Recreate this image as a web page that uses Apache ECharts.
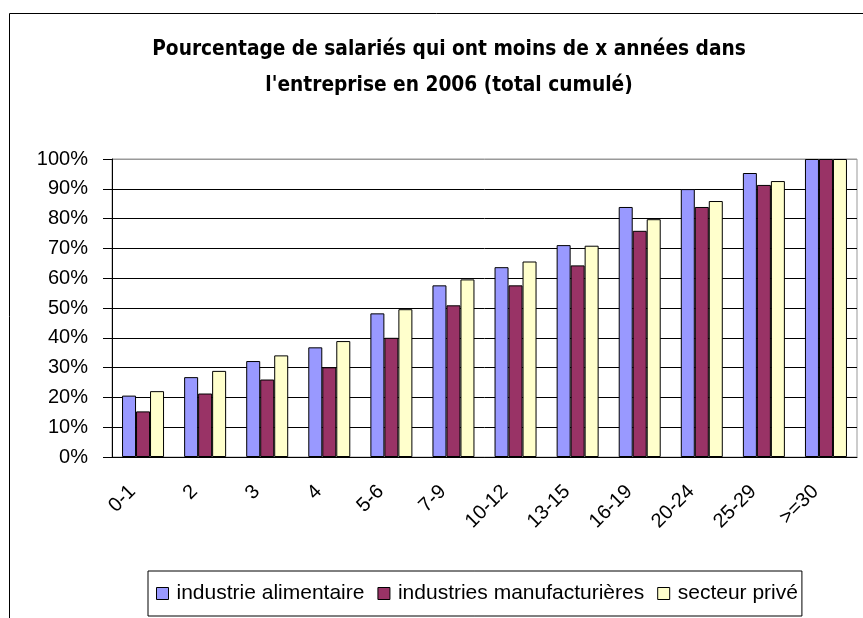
<!DOCTYPE html>
<html>
<head>
<meta charset="utf-8">
<script src="https://cdn.jsdelivr.net/npm/echarts@6/dist/echarts.min.js"></script>
<style>
html, body { margin: 0; padding: 0; background: #fff; }
#main { width: 863px; height: 618px; }
</style>
</head>
<body>
<div id="main"></div>
<script>
const categories = ['0-1', '2', '3', '4', '5-6', '7-9', '10-12', '13-15', '16-19', '20-24', '25-29', '>=30'];
const industrieAlimentaire = [20.6, 26.8, 32.2, 36.8, 48.2, 57.6, 63.7, 71.1, 83.9, 89.9, 95.3, 100];
const industriesManufacturieres = [15.3, 21.3, 26.0, 30.1, 40.0, 50.9, 57.6, 64.3, 75.9, 83.9, 91.3, 100];
const secteurPrive = [22.1, 28.9, 34.1, 38.9, 49.6, 59.6, 65.6, 70.9, 79.8, 85.9, 92.6, 100];
const seriesNames = ['industrie alimentaire', 'industries manufacturières', 'secteur privé'];

const chart = echarts.init(document.getElementById('main'));
const narrow = "'DejaVu Sans Condensed', 'Liberation Sans Narrow', sans-serif";
const arial = "'Liberation Sans', Arial, sans-serif";

// split line colours: black everywhere except the top one (plot border is grey)
const splitColors = ['#000', '#000', '#000', '#000', '#000', '#000', '#000', '#000', '#000', '#000', '#999'];

function barSeries(name, data, color) {
  return {
    name: name,
    type: 'bar',
    data: data,
    barWidth: 14,
    barGap: '0%',
    itemStyle: { color: color, borderColor: '#000', borderWidth: 1 }
  };
}

chart.setOption({
  animation: false,
  graphic: [{
    type: 'rect',
    shape: { x: 9.5, y: 13.5, width: 1000, height: 800 },
    style: { fill: 'none', stroke: '#000', lineWidth: 1 },
    z: -1
  }],
  title: {
    text: 'Pourcentage de salariés qui ont moins de x années dans\nl\'entreprise en 2006 (total cumulé)',
    left: 444,
    top: 27,
    textAlign: 'center',
    textStyle: { fontFamily: narrow, fontWeight: 'bold', fontSize: 20.7, lineHeight: 36, color: '#000' }
  },
  legend: {
    data: seriesNames,
    left: 148,
    top: 571,
    padding: [12, 4, 12, 8],
    borderColor: '#000',
    borderWidth: 1,
    itemWidth: 12,
    itemHeight: 12,
    itemGap: 13,
    icon: 'rect',
    itemStyle: { borderColor: '#000', borderWidth: 1 },
    textStyle: { fontFamily: arial, fontSize: 21, color: '#000', padding: [0, 0, 0, 3] }
  },
  grid: {
    left: 112,
    right: 6,
    top: 159,
    bottom: 161,
    show: true,
    borderColor: '#999',
    borderWidth: 1
  },
  xAxis: {
    type: 'category',
    data: categories,
    axisLine: { lineStyle: { color: '#000', width: 1 } },
    axisTick: { length: 8, lineStyle: { color: '#000' } },
    axisLabel: {
      rotate: 45,
      margin: 21,
      padding: [0, 15, 0, 0],
      fontFamily: arial,
      fontSize: 20,
      color: '#000'
    }
  },
  yAxis: {
    type: 'value',
    min: 0,
    max: 100,
    interval: 10,
    axisLine: { show: true, lineStyle: { color: '#000', width: 1 } },
    axisTick: { show: true, inside: false, length: 9, lineStyle: { color: '#000' } },
    axisLabel: {
      formatter: '{value}%',
      margin: 24,
      fontFamily: arial,
      fontSize: 20,
      color: '#000'
    },
    splitLine: { lineStyle: { color: splitColors, width: 1 } }
  },
  series: [
    barSeries(seriesNames[0], industrieAlimentaire, '#9999FF'),
    barSeries(seriesNames[1], industriesManufacturieres, '#993366'),
    barSeries(seriesNames[2], secteurPrive, '#FFFFCC')
  ]
});
</script>
</body>
</html>
